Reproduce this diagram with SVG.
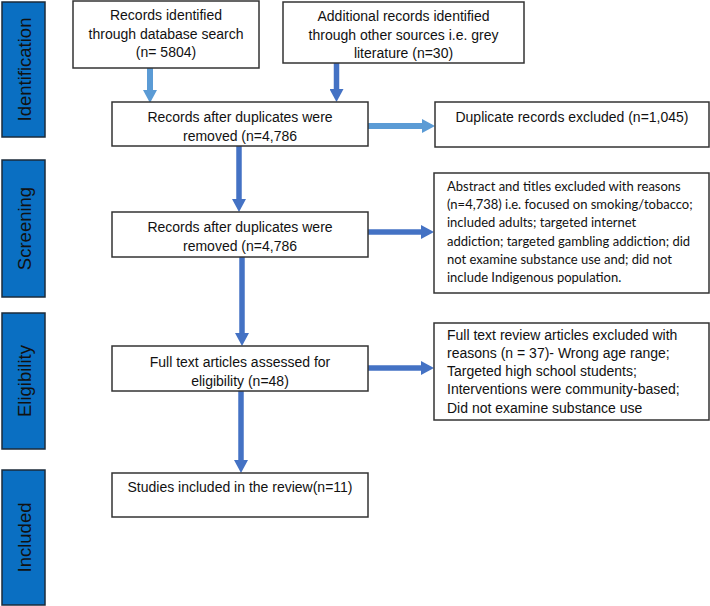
<svg xmlns="http://www.w3.org/2000/svg" width="710" height="606" viewBox="0 0 710 606">
<defs>
<style>
.bg{fill:#ffffff}
.side{fill:#0a6fc2;stroke:#1c2b3a;stroke-width:1.5}
.sidet{font-family:"Liberation Sans",Arial,sans-serif;font-size:18.5px;fill:#111;text-anchor:middle}
.box{fill:#ffffff;stroke:#333333;stroke-width:1.5}
.t{font-family:"Liberation Sans",Arial,sans-serif;font-size:14px;fill:#111}
.c{text-anchor:middle}
.cal{font-family:Lato,"Liberation Sans",sans-serif;font-size:13px;fill:#111}
.lt{stroke:#5b9bd5;stroke-width:6;fill:none}
.dk{stroke:#4472c4;stroke-width:5.5;fill:none}
</style>
<marker id="ah-lt" viewBox="0 -7 13 14" refX="0" refY="0" markerWidth="13" markerHeight="14" markerUnits="userSpaceOnUse" orient="auto"><path d="M0,-7 L13,0 L0,7 z" fill="#5b9bd5"/></marker>
<marker id="ah-dk" viewBox="0 -7 13 14" refX="0" refY="0" markerWidth="13" markerHeight="14" markerUnits="userSpaceOnUse" orient="auto"><path d="M0,-7 L13,0 L0,7 z" fill="#4472c4"/></marker>
</defs>
<rect class="bg" x="0" y="0" width="710" height="606"/>

<g id="stage-identification">
<rect class="side" x="2" y="2" width="43" height="135"/>
<text class="sidet" transform="translate(25,69.5) rotate(-90)" dy="0.35em">Identification</text>
</g>
<g id="stage-screening">
<rect class="side" x="2" y="160" width="43" height="137"/>
<text class="sidet" transform="translate(25,228.5) rotate(-90)" dy="0.35em">Screening</text>
</g>
<g id="stage-eligibility">
<rect class="side" x="2" y="313" width="43" height="136"/>
<text class="sidet" transform="translate(25,381) rotate(-90)" dy="0.35em">Eligibility</text>
</g>
<g id="stage-included">
<rect class="side" x="2" y="470" width="43" height="135"/>
<text class="sidet" transform="translate(25,537.5) rotate(-90)" dy="0.35em">Included</text>
</g>

<g id="connectors">
<path class="lt" d="M150,68 V90" marker-end="url(#ah-lt)"/>
<path class="dk" d="M336.5,63 V89" marker-end="url(#ah-dk)"/>
<path class="lt" d="M368,126 H422" marker-end="url(#ah-lt)"/>
<path class="dk" d="M239,146 V199" marker-end="url(#ah-dk)"/>
<path class="dk" d="M368,232 H421" marker-end="url(#ah-dk)"/>
<path class="dk" d="M242,257 V333" marker-end="url(#ah-dk)"/>
<path class="dk" d="M368,368 H421" marker-end="url(#ah-dk)"/>
<path class="dk" d="M241,391 V460" marker-end="url(#ah-dk)"/>
</g>

<g id="db-search">
<rect class="box" x="73" y="1" width="186" height="67"/>
<text class="t c" x="166" y="20">Records identified</text>
<text class="t c" x="166" y="38.5">through database search</text>
<text class="t c" x="166" y="57">(n= 5804)</text>
</g>
<g id="other-sources">
<rect class="box" x="283" y="2" width="241" height="61"/>
<text class="t c" x="403.5" y="21">Additional records identified</text>
<text class="t c" x="403.5" y="39.5">through other sources i.e. grey</text>
<text class="t c" x="403.5" y="58">literature (n=30)</text>
</g>
<g id="after-duplicates">
<rect class="box" x="112" y="102" width="256" height="44"/>
<text class="t c" x="240" y="122">Records after duplicates were</text>
<text class="t c" x="240" y="141">removed (n=4,786</text>
</g>
<g id="duplicates-excluded">
<rect class="box" x="435" y="102" width="274" height="45"/>
<text class="t c" x="572" y="122">Duplicate records excluded (n=1,045)</text>
</g>
<g id="screened">
<rect class="box" x="112" y="212" width="256" height="45"/>
<text class="t c" x="240" y="232">Records after duplicates were</text>
<text class="t c" x="240" y="251">removed (n=4,786</text>
</g>
<g id="abstract-excluded">
<rect class="box" x="434" y="173" width="275" height="120"/>
<text class="cal" x="447" y="191">Abstract and titles excluded with reasons</text>
<text class="cal" x="447" y="209.2">(n=4,738) i.e. focused on smoking/tobacco;</text>
<text class="cal" x="447" y="227.4">included adults; targeted internet</text>
<text class="cal" x="447" y="245.6">addiction; targeted gambling addiction; did</text>
<text class="cal" x="447" y="263.8">not examine substance use and; did not</text>
<text class="cal" x="447" y="282">include Indigenous population.</text>
</g>
<g id="full-text">
<rect class="box" x="112" y="346" width="256" height="45"/>
<text class="t c" x="240" y="367">Full text articles assessed for</text>
<text class="t c" x="240" y="386">eligibility (n=48)</text>
</g>
<g id="full-text-excluded">
<rect class="box" x="434" y="323" width="275" height="97"/>
<text class="t" x="447" y="339.5">Full text review articles excluded with</text>
<text class="t" x="447" y="357.8">reasons (n = 37)- Wrong age range;</text>
<text class="t" x="447" y="376.1">Targeted high school students;</text>
<text class="t" x="447" y="394.4">Interventions were community-based;</text>
<text class="t" x="447" y="412.7">Did not examine substance use</text>
</g>
<g id="included">
<rect class="box" x="112" y="473" width="256" height="44"/>
<text class="t c" x="240" y="492">Studies included in the review(n=11)</text>
</g>
</svg>
